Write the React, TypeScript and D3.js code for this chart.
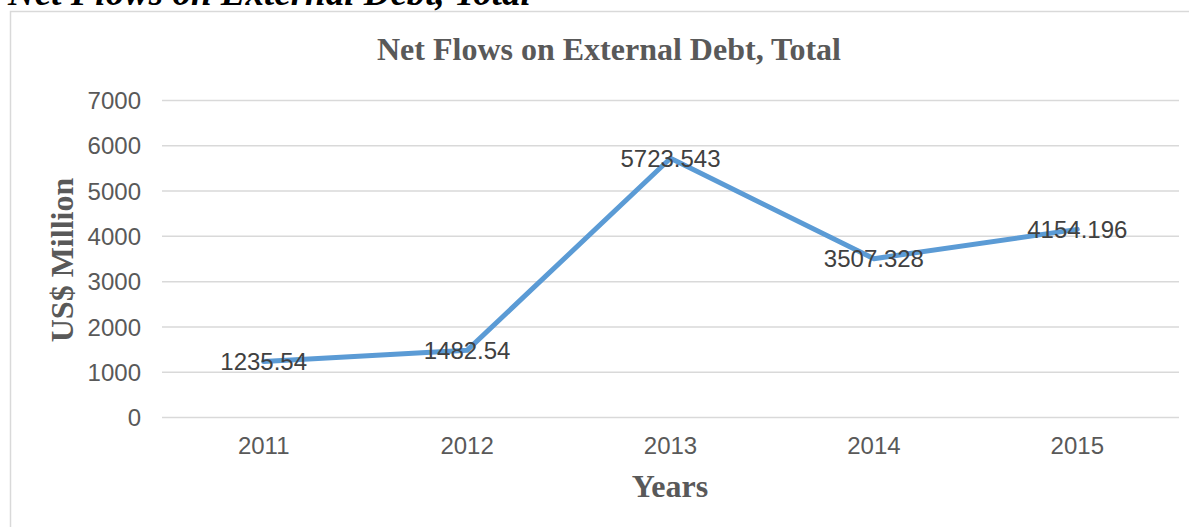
import React from "react";
import * as d3 from "d3";

const years = ["2011", "2012", "2013", "2014", "2015"];
const netFlows = [1235.54, 1482.54, 5723.543, 3507.328, 4154.196];
const valueLabels = ["1235.54", "1482.54", "5723.543", "3507.328", "4154.196"];
const yTicks = [0, 1000, 2000, 3000, 4000, 5000, 6000, 7000];

const W = 1189;
const H = 527;

export default function App() {
  const x = d3.scaleBand<string>().domain(years).range([162, 1179]);
  const y = d3.scaleLinear().domain([0, 7000]).range([417.5, 100.5]);
  const cx = (yr: string) => (x(yr) as number) + x.bandwidth() / 2;
  const pts: [number, number][] = years.map((yr, i) => [cx(yr), y(netFlows[i])]);
  const line = d3.line<[number, number]>().x((d) => d[0]).y((d) => d[1]);
  const sans = "'Liberation Sans', Arial, sans-serif";
  const serif = "'Liberation Serif', 'Times New Roman', serif";

  return (
    <div style={{ position: "absolute", left: 0, top: 0 }}>
      <svg width={W} height={H} style={{ display: "block", background: "#fff" }}>
        <text x={8} y={5} fontFamily={serif} fontWeight="bold" fontStyle="italic" fontSize={37} fill="#000">
          Net Flows on External Debt, Total
        </text>
        <rect x={10.5} y={11.5} width={1200} height={600} fill="none" stroke="#d9d9d9" strokeWidth={1.5} />
        <text x={609} y={60} textAnchor="middle" fontFamily={serif} fontWeight="bold" fontSize={32} fill="#595959">
          Net Flows on External Debt, Total
        </text>
        {yTicks.map((t) => (
          <g key={t}>
            <line x1={162} x2={1179} y1={y(t)} y2={y(t)} stroke="#d9d9d9" strokeWidth={1.5} />
            <text x={141} y={y(t) + 8.6} textAnchor="end" fontFamily={sans} fontSize={24} fill="#595959">
              {t}
            </text>
          </g>
        ))}
        {years.map((yr) => (
          <text key={yr} x={cx(yr)} y={454} textAnchor="middle" fontFamily={sans} fontSize={24} fill="#595959">
            {yr}
          </text>
        ))}
        <path d={line(pts) || ""} fill="none" stroke="#5B9BD5" strokeWidth={5} strokeLinejoin="round" strokeLinecap="round" />
        {pts.map((p, i) => (
          <text key={i} x={p[0]} y={p[1] + 8.6} textAnchor="middle" fontFamily={sans} fontSize={24} fill="#404040">
            {valueLabels[i]}
          </text>
        ))}
        <text
          transform={`translate(73,260) rotate(-90)`}
          textAnchor="middle"
          fontFamily={serif}
          fontWeight="bold"
          fontSize={32}
          fill="#595959"
        >
          US$ Million
        </text>
        <text x={670} y={497} textAnchor="middle" fontFamily={serif} fontWeight="bold" fontSize={32} fill="#595959">
          Years
        </text>
      </svg>
    </div>
  );
}
